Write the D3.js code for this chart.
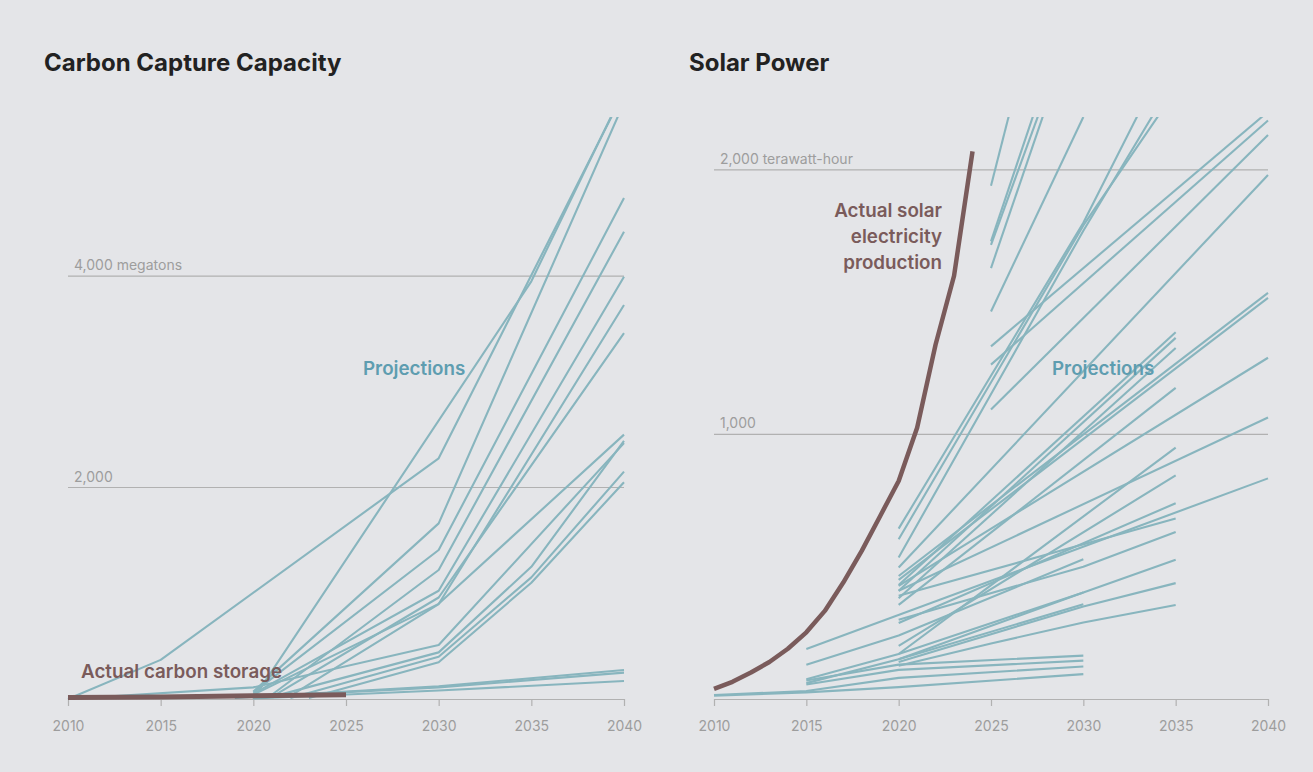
<!DOCTYPE html>
<html>
<head>
<meta charset="utf-8">
<script src="https://cdn.jsdelivr.net/npm/d3@7/dist/d3.min.js"></script>
<style>
  html, body { margin: 0; padding: 0; background: #e4e5e8; }
  svg { display: block; }
  text { font-family: Inter, "Noto Sans", sans-serif; }
</style>
</head>
<body>
<svg id="chart" width="1313" height="772"></svg>
<script>
// ---------- DATA ----------
const xTicks = [2010, 2015, 2020, 2025, 2030, 2035, 2040];

const carbonGrid = [2000, 4000];
const carbonGridLabels = ["2,000", "4,000 megatons"];
const carbonActual = [[2010, 15], [2015, 20], [2020, 30], [2025, 40]];
const carbonProjections = [
  [[2010, 0], [2015, 370], [2030, 2276], [2040, 5740]],
  [[2020, 0], [2035, 3950], [2040, 5760]],
  [[2020, 70], [2030, 1661], [2040, 5640]],
  [[2020, 60], [2030, 1409], [2040, 4737]],
  [[2021, 40], [2030, 1220], [2040, 4419]],
  [[2020, 50], [2030, 1024], [2040, 3993]],
  [[2022, 30], [2030, 898], [2040, 3726]],
  [[2021, 20], [2030, 960], [2040, 3461]],
  [[2020, 40], [2030, 900], [2040, 2500]],
  [[2010, 0], [2020, 110], [2030, 511], [2040, 2420]],
  [[2021, 20], [2030, 441], [2035, 1250], [2040, 2440]],
  [[2022, 10], [2030, 400], [2035, 1150], [2040, 2150]],
  [[2023, 10], [2030, 347], [2035, 1100], [2040, 2050]],
  [[2019, 10], [2030, 120], [2040, 274]],
  [[2020, 20], [2030, 110], [2040, 249]],
  [[2020, 5], [2030, 80], [2040, 170]]
];

const solarGrid = [1000, 2000];
const solarGridLabels = ["1,000", "2,000 terawatt-hour"];
const solarYears = [2010, 2011, 2012, 2013, 2014, 2015, 2016, 2017, 2018, 2019, 2020, 2021, 2022, 2023, 2024];
const solarActualValues = [38, 65, 100, 140, 190, 252, 333, 440, 560, 692, 824, 1025, 1340, 1600, 2070];
const solarProjections = [
  [[2010, 12], [2015, 25], [2020, 45], [2030, 94]],
  [[2010, 15], [2015, 30], [2020, 80], [2030, 123]],
  [[2015, 55], [2020, 110], [2030, 145]],
  [[2015, 70], [2020, 130], [2030, 164]],
  [[2015, 189], [2040, 834]],
  [[2015, 129], [2020, 240], [2030, 528]],
  [[2015, 75], [2020, 170], [2030, 403]],
  [[2015, 60], [2020, 150], [2030, 358]],
  [[2020, 126], [2025, 210], [2030, 289], [2035, 355]],
  [[2020, 644], [2030, 1800], [2035, 2490]],
  [[2020, 604], [2030, 1790], [2035, 2300]],
  [[2020, 535], [2030, 1770], [2035, 2350]],
  [[2020, 497], [2040, 1981]],
  [[2020, 465], [2040, 1535]],
  [[2020, 450], [2040, 1516]],
  [[2020, 428], [2040, 1290]],
  [[2020, 409], [2040, 1064]],
  [[2020, 431], [2035, 1386]],
  [[2020, 409], [2035, 1365]],
  [[2020, 381], [2035, 1327]],
  [[2020, 356], [2035, 1176]],
  [[2020, 170], [2035, 950]],
  [[2020, 201], [2035, 845]],
  [[2020, 287], [2035, 740]],
  [[2020, 390], [2035, 682]],
  [[2020, 300], [2030, 500], [2035, 631]],
  [[2020, 150], [2030, 403], [2035, 526]],
  [[2020, 140], [2030, 350], [2035, 438]],
  [[2025, 1940], [2030, 3310]],
  [[2025, 1730], [2030, 2770]],
  [[2025, 1717], [2030, 2672]],
  [[2025, 1629], [2030, 2650]],
  [[2025, 1465], [2030, 2200]],
  [[2025, 1333], [2040, 2220]],
  [[2025, 1264], [2040, 2187]],
  [[2025, 1094], [2040, 2132]]
];

// ---------- STYLE ----------
const C = {
  proj: "#88b5be",
  actual: "#7a5b5b",
  projLabel: "#5e9db0",
  grid: "#b1b1b1",
  tickText: "#9d9d9d",
  title: "#222222"
};

const svg = d3.select("#chart");

function drawPanel(cfg) {
  const g = svg.append("g");
  const x = d3.scaleLinear().domain([2010, 2040]).range([cfg.x0, cfg.x1]);
  const y = d3.scaleLinear().domain([0, cfg.yMax]).range([cfg.yBase, cfg.yTop]);

  // title
  g.append("text")
    .attr("x", cfg.titleX).attr("y", 71)
    .attr("font-size", 24).attr("font-weight", 700)
    .attr("fill", C.title)
    .text(cfg.title);

  // grid lines
  cfg.grid.forEach((v, i) => {
    g.append("line")
      .attr("x1", cfg.x0).attr("x2", cfg.x1)
      .attr("y1", y(v)).attr("y2", y(v))
      .attr("stroke", C.grid).attr("stroke-width", 1.2);
    g.append("text")
      .attr("x", cfg.x0 + 6).attr("y", y(v) - 6)
      .attr("font-size", 14).attr("fill", C.tickText)
      .text(cfg.gridLabels[i]);
  });

  // x axis
  const axis = d3.axisBottom(x).tickValues(xTicks).tickFormat(d3.format("d"))
    .tickSize(7).tickSizeOuter(0).tickPadding(15);
  const ax = g.append("g").attr("transform", `translate(0,${cfg.yBase})`).call(axis);
  ax.select(".domain").attr("stroke", C.grid).attr("stroke-width", 1.2);
  ax.selectAll(".tick line").attr("stroke", C.grid).attr("stroke-width", 1.2);
  ax.selectAll(".tick text").attr("fill", C.tickText).attr("font-size", 14)
    .attr("font-family", "Inter, 'Noto Sans', sans-serif");

  // clip
  const clipId = "clip" + cfg.id;
  svg.append("clipPath").attr("id", clipId).append("rect")
    .attr("x", cfg.x0 - 10).attr("y", cfg.yTop)
    .attr("width", cfg.x1 - cfg.x0 + 20).attr("height", cfg.yBase - cfg.yTop + 10);

  const line = d3.line().x(d => x(d[0])).y(d => y(d[1]));
  const lg = g.append("g").attr("clip-path", `url(#${clipId})`);

  lg.selectAll("path.proj").data(cfg.projections).join("path")
    .attr("class", "proj")
    .attr("d", line)
    .attr("fill", "none")
    .attr("stroke", C.proj)
    .attr("stroke-width", 2.1)
    .attr("stroke-linejoin", "round");

  lg.append("path")
    .datum(cfg.actual)
    .attr("d", line)
    .attr("fill", "none")
    .attr("stroke", C.actual)
    .attr("stroke-width", cfg.actualWidth)
    .attr("stroke-linejoin", "round")
    .attr("stroke-linecap", "butt");

  // labels
  g.append("text")
    .attr("x", cfg.projLabel[0]).attr("y", cfg.projLabel[1])
    .attr("font-size", 18.8).attr("font-weight", 600)
    .attr("fill", C.projLabel)
    .text("Projections");

  const al = g.append("text")
    .attr("font-size", 18.8).attr("font-weight", 600)
    .attr("fill", C.actual)
    .attr("text-anchor", cfg.actualAnchor);
  cfg.actualLabel.forEach((t, i) => {
    al.append("tspan")
      .attr("x", cfg.actualPos[0])
      .attr("y", cfg.actualPos[1] + i * 26)
      .text(t);
  });
}

drawPanel({
  id: "L",
  title: "Carbon Capture Capacity",
  titleX: 44,
  x0: 68, x1: 624,
  yBase: 699, yTop: 117, yMax: 5504,
  grid: carbonGrid, gridLabels: carbonGridLabels,
  projections: carbonProjections,
  actual: carbonActual,
  actualWidth: 5,
  projLabel: [363, 375],
  actualLabel: ["Actual carbon storage"],
  actualPos: [81, 678],
  actualAnchor: "start"
});

drawPanel({
  id: "R",
  title: "Solar Power",
  titleX: 689,
  x0: 714, x1: 1268,
  yBase: 699, yTop: 117, yMax: 2200,
  grid: solarGrid, gridLabels: solarGridLabels,
  projections: solarProjections,
  actual: solarYears.map((yr, i) => [yr, solarActualValues[i]]),
  actualWidth: 4.5,
  projLabel: [1052, 375],
  actualLabel: ["Actual solar", "electricity", "production"],
  actualPos: [942, 217],
  actualAnchor: "end"
});
</script>
</body>
</html>
